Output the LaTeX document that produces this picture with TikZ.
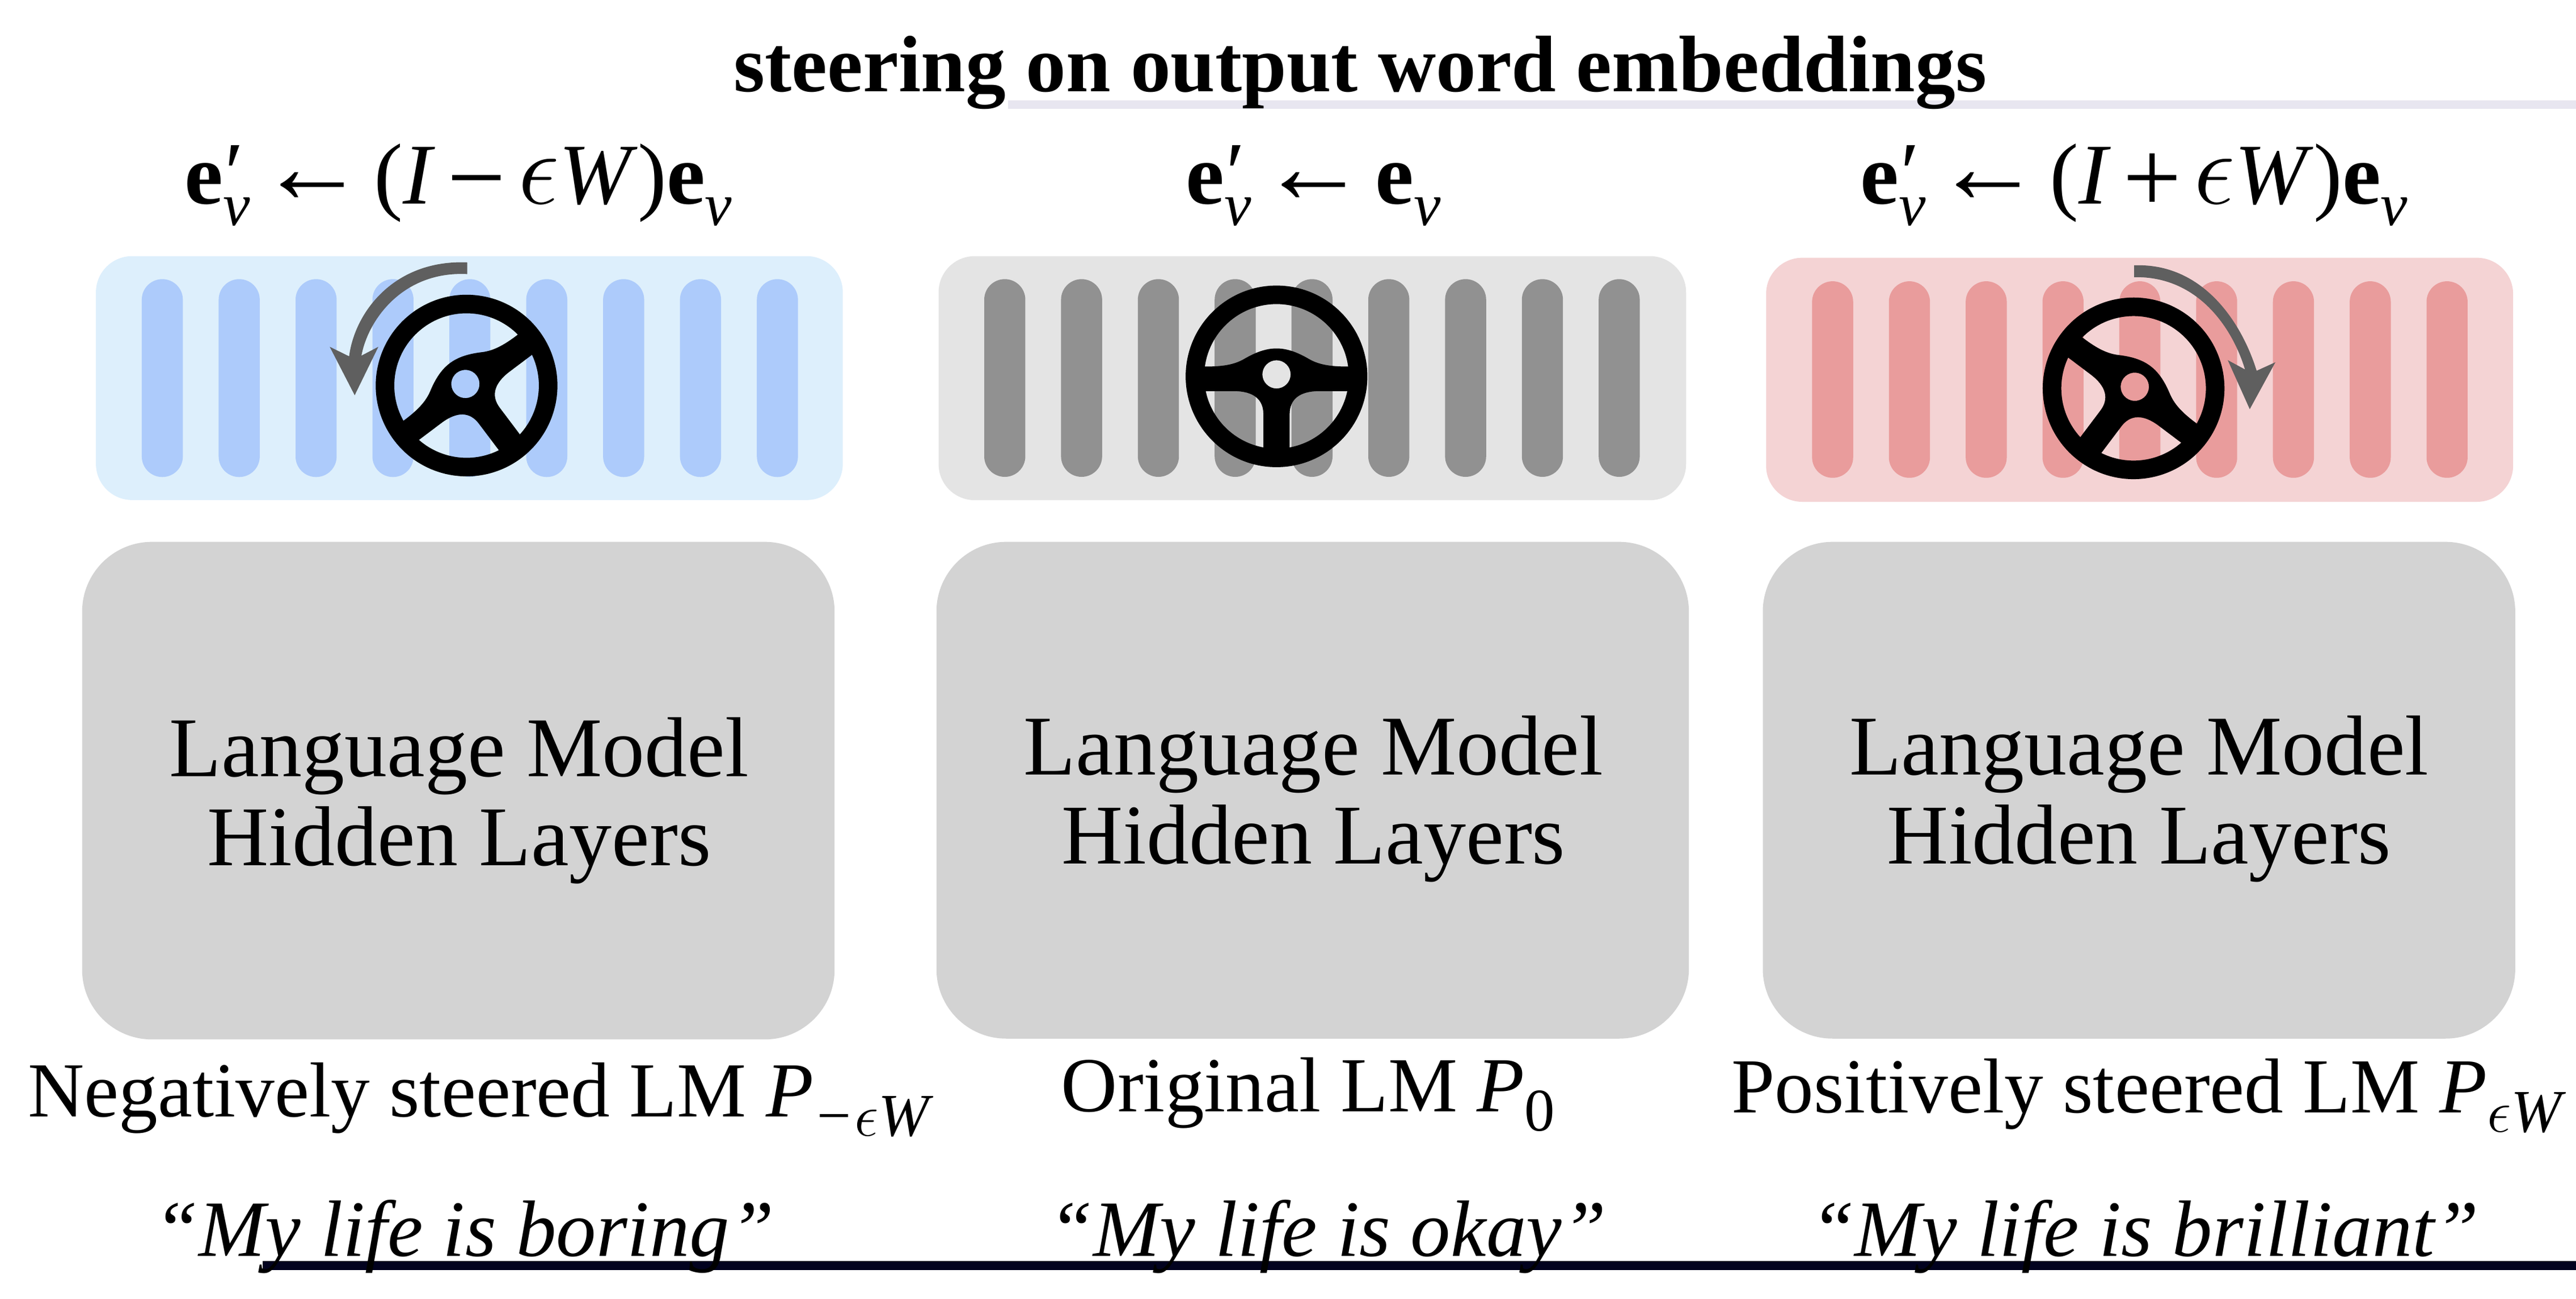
\documentclass[tikz,border=0pt]{standalone}
\usepackage{fix-cm}
\usepackage{graphicx}
\usepackage{fontspec}
\setmainfont{Liberation Serif}
\definecolor{gbox}{HTML}{E4E4E4}\definecolor{gbar}{HTML}{919191}
\definecolor{bbox}{HTML}{DDEFFC}\definecolor{bbar}{HTML}{ADCBFB}
\definecolor{rbox}{HTML}{F4D3D4}\definecolor{rbar}{HTML}{E99C9C}
\definecolor{lmbox}{HTML}{D3D3D3}\definecolor{arrowgray}{HTML}{5F5F5F}
\definecolor{topline}{HTML}{E8E6F0}\definecolor{botline}{HTML}{02021F}
\newcommand{\bodyfs}{\fontsize{29.5}{33}\selectfont}
\newcommand{\capfs}{\fontsize{27}{31}\selectfont}
\newcommand{\quotefs}{\fontsize{27.7}{31}\selectfont}
\newcommand{\eqfs}{\fontsize{30}{34}\selectfont}
\newcommand{\subfs}{\fontsize{21}{23}\selectfont}
\newcommand{\lowsub}[1]{\raisebox{-.25em}{\subfs\itshape #1}}
\newcommand{\evec}{\textbf{e}\lowsub{v}}
\newcommand{\evecp}{\textbf{e}\rlap{\raisebox{.02em}{\hspace{.02em}′}}\lowsub{v}}
\newcommand{\larr}{\hspace{.1em}\raisebox{.01em}{\fontsize{37}{40}\selectfont ←}\hspace{.1em}}
\newcommand{\eps}{\scalebox{1.2}{$\epsilon$}}
\newcommand{\subeps}{$\epsilon$}
\newcommand{\tightgap}{\hspace{.14em}}
\newcommand{\opsym}[1]{\raisebox{-.1em}{\fontsize{36}{36}\selectfont #1}}
\newcommand{\steerwheel}[3]{%
  \begin{scope}[shift={(#1,#2)},x=0.02cm,y=0.02cm,rotate=#3]
    \fill[black,even odd rule] (0,0) circle[radius=55.3] (0,0) circle[radius=44];
    \fill[black,even odd rule]
      (-49,6) -- (-42,6) .. controls (-30,6) and (-24,8) .. (-19,11)
      .. controls (-12,15) and (-6,17) .. (0,17)
      .. controls (6,17) and (12,15) .. (19,11)
      .. controls (24,8) and (30,6) .. (42,6) -- (49,6) -- (49,-9)
      -- (26,-9) .. controls (14,-9) and (8,-14) .. (8,-23) -- (8,-49) -- (-8,-49) -- (-8,-23)
      .. controls (-8,-14) and (-14,-9) .. (-26,-9) -- (-49,-9) -- cycle
      (0,1.2) circle[radius=8.6];
  \end{scope}}
\tikzset{
  txt/.style={inner sep=0,outer sep=0,font=\bodyfs,anchor=base},
  captxt/.style={txt,font=\capfs,anchor=base west},
  quotetxt/.style={txt,font=\quotefs\itshape},
  eqtxt/.style={txt,font=\eqfs},
  panel/.style={rounded corners=0.44cm},
  barshape/.style={rounded corners=0.25cm},
  modelbox/.style={fill=lmbox,rounded corners=0.85cm}
}
\begin{document}
\begin{tikzpicture}[x=0.02cm,y=-0.02cm]
\useasboundingbox (0,0) rectangle (1568,791.06);
\fill[white] (0,0) rectangle (1568,791.06);
% rules
\fill[topline] (613.6,61) rectangle (1568,66.2);
\fill[botline] (160,768) rectangle (1568,773.5);
% title
\node[txt,font=\fontsize{27.8}{32}\selectfont\bfseries] (title) at (828,55.8) {steering on output word embeddings};
% equations
\node[eqtxt] (eqa) at (279,124) {\evecp\larr(\textit{I}\tightgap\opsym{−}\tightgap\eps\textit{W})\evec};
\node[eqtxt] (eqb) at (799.5,124) {\evecp\larr\evec};
\node[eqtxt] (eqc) at (1299,124) {\evecp\larr(\textit{I}\tightgap\opsym{+}\tightgap\eps\textit{W})\evec};
% steering panels
\fill[bbox,panel] (58.4,156) rectangle (513,304.5);
\foreach \n in {0,...,8}{\fill[bbar,barshape] ({98.8+46.8*\n-12.5},170) rectangle ({98.8+46.8*\n+12.5},290.5);}
\fill[gbox,panel] (571.3,156) rectangle (1026.3,304.6);
\foreach \n in {0,...,8}{\fill[gbar,barshape] ({611.6+46.75*\n-12.5},170) rectangle ({611.6+46.75*\n+12.5},290.4);}
\fill[rbox,panel] (1075,157) rectangle (1529.7,305.6);
\foreach \n in {0,...,8}{\fill[rbar,barshape] ({1115.5+46.75*\n-12.5},171.3) rectangle ({1115.5+46.75*\n+12.5},291);}
% wheels
\steerwheel{284}{234.8}{37}
\steerwheel{777}{229.2}{0}
\steerwheel{1298.7}{236.5}{-37}
% rotation arrows
\fill[arrowgray] (284.4,159.8) .. controls (240,158) and (216,190) .. (212.5,217)
  -- (200.7,211.2) -- (215.9,240.7) -- (230.3,211.2) -- (220,216.6)
  .. controls (224,195) and (245,165) .. (284.4,166.9) -- cycle;
\fill[arrowgray] (1299,161.6) .. controls (1340,160) and (1364,195) .. (1373.6,225.8)
  -- (1385,220.6) -- (1369.4,249.2) -- (1356,219.3) -- (1366.5,225)
  .. controls (1359,200) and (1338,168) .. (1299,168.8) -- cycle;
% language model boxes
\fill[modelbox] (50,330) rectangle (508,633);
\fill[modelbox] (570,330) rectangle (1028,632.5);
\fill[modelbox] (1073,330) rectangle (1531,632.5);
\node[txt] (lma1) at (279.5,473) {Language Model};
\node[txt] (lma2) at (279.5,527) {Hidden Layers};
\node[txt] (lmb1) at (799.5,472) {Language Model};
\node[txt] (lmb2) at (799.5,526) {Hidden Layers};
\node[txt] (lmc1) at (1302,472) {Language Model};
\node[txt] (lmc2) at (1302,526) {Hidden Layers};
% captions
\node[captxt] (capa) at (17,680) {Negatively steered LM \textit{P}\lowsub{−\subeps W}};
\node[captxt] (capb) at (646,677) {Original LM \textit{P}\lowsub{\upshape 0}};
\node[captxt] (capc) at (1054,677.5) {Positively steered LM \textit{P}\lowsub{\subeps W}};
% samples
\node[quotetxt] (sa) at (282.5,765) {“My life is boring”};
\node[quotetxt] (sb) at (808,765) {“My life is okay”};
\node[quotetxt] (sc) at (1305.5,765) {“My life is brilliant”};
\end{tikzpicture}
\end{document}
